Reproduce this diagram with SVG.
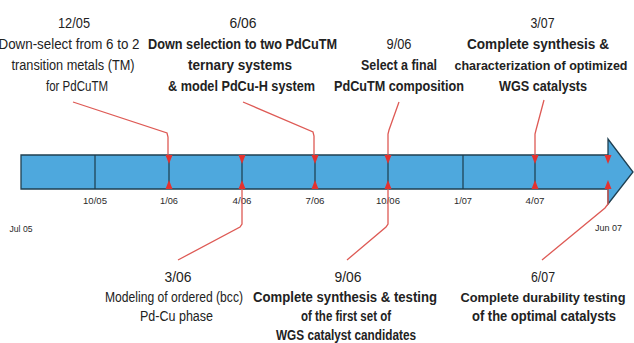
<svg xmlns="http://www.w3.org/2000/svg" width="634" height="343" viewBox="0 0 634 343">
<defs>
<style>
.t{font-family:"Liberation Sans",Arial,sans-serif;font-size:14px;fill:#222;text-anchor:middle}
.b{font-weight:bold}
.n{font-size:13px}
.s{font-family:"Liberation Sans",Arial,sans-serif;font-size:9.5px;fill:#2a2a2a;text-anchor:middle}
.c{fill:none;stroke:#de5a55;stroke-width:1.3}
.tick{stroke:#1c3c4c;stroke-width:1.2}
.tri{fill:#e3322f}
</style>
<polygon id="dn" points="-3.5,0 3.5,0 0,9"/>
<polygon id="up" points="-3.5,0 3.5,0 0,-9"/>
</defs>
<g id="timeline-bar">
<polygon points="21,155 608,155 608,139 633,172 608,204 608,189 21,189" fill="#4ea8dd" stroke="#1f3f50" stroke-width="1.3" stroke-linejoin="miter"/>
<line class="tick" x1="95" y1="155" x2="95" y2="189"/>
<line class="tick" x1="463" y1="155" x2="463" y2="189"/>
<line class="tick" x1="169" y1="160" x2="169" y2="184"/>
<line class="tick" x1="242" y1="160" x2="242" y2="184"/>
<line class="tick" x1="315" y1="160" x2="315" y2="184"/>
<line class="tick" x1="388" y1="160" x2="388" y2="184"/>
<line class="tick" x1="535" y1="160" x2="535" y2="184"/>
</g>
<g id="markers">
<use href="#dn" class="tri" x="169" y="155"/><use href="#up" class="tri" x="169" y="189"/>
<use href="#dn" class="tri" x="242" y="155"/><use href="#up" class="tri" x="242" y="189"/>
<use href="#dn" class="tri" x="315" y="155"/><use href="#up" class="tri" x="315" y="189"/>
<use href="#dn" class="tri" x="388" y="155"/><use href="#up" class="tri" x="388" y="189"/>
<use href="#dn" class="tri" x="535" y="155"/><use href="#up" class="tri" x="535" y="189"/>
<use href="#dn" class="tri" x="608" y="155"/><use href="#up" class="tri" x="608" y="189"/>
</g>
<g id="axis-labels">
<text class="s" x="95" y="204" textLength="24" lengthAdjust="spacingAndGlyphs">10/05</text>
<text class="s" x="169" y="204" textLength="18" lengthAdjust="spacingAndGlyphs">1/06</text>
<text class="s" x="242" y="204" textLength="19" lengthAdjust="spacingAndGlyphs">4/06</text>
<text class="s" x="315" y="204" textLength="19" lengthAdjust="spacingAndGlyphs">7/06</text>
<text class="s" x="388" y="204" textLength="24" lengthAdjust="spacingAndGlyphs">10/06</text>
<text class="s" x="463" y="204" textLength="18" lengthAdjust="spacingAndGlyphs">1/07</text>
<text class="s" x="535" y="204" textLength="19" lengthAdjust="spacingAndGlyphs">4/07</text>
<text class="s" x="21" y="232" textLength="23" lengthAdjust="spacingAndGlyphs">Jul 05</text>
<text class="s" x="608.5" y="231" textLength="27" lengthAdjust="spacingAndGlyphs">Jun 07</text>
</g>
<g id="connectors">
<polyline class="c" points="73,102 167,133 168,137 168,155"/>
<polyline class="c" points="243,102 313,132 314,136 314,155"/>
<polyline class="c" points="399,102 389,130 388,134 388,155"/>
<polyline class="c" points="544,100 536,130 535,134 535,155"/>
<polyline class="c" points="242,189 242,224 240,227 178,260"/>
<polyline class="c" points="388,189 388,224 386,227 347,260"/>
<polyline class="c" points="608,189 608,204 605,208 542,260"/>
</g>
<g id="m-1205">
<text class="t" x="74" y="28" textLength="32" lengthAdjust="spacingAndGlyphs">12/05</text>
<text class="t" x="69" y="49" textLength="141" lengthAdjust="spacingAndGlyphs">Down-select from 6 to 2</text>
<text class="t" x="73" y="70" textLength="123" lengthAdjust="spacingAndGlyphs">transition metals (TM)</text>
<text class="t" x="77" y="91" textLength="62" lengthAdjust="spacingAndGlyphs">for PdCuTM</text>
</g>
<g id="m-0606">
<text class="t" x="243" y="28" textLength="27" lengthAdjust="spacingAndGlyphs">6/06</text>
<text class="t b" x="242.5" y="49" textLength="189" lengthAdjust="spacingAndGlyphs">Down selection to two PdCuTM</text>
<text class="t b" x="240" y="70" textLength="104" lengthAdjust="spacingAndGlyphs">ternary systems</text>
<text class="t b" x="241.5" y="91" textLength="147" lengthAdjust="spacingAndGlyphs">&amp; model PdCu-H system</text>
</g>
<g id="m-0906-top">
<text class="t" x="399" y="49" textLength="25" lengthAdjust="spacingAndGlyphs">9/06</text>
<text class="t b" x="399" y="70" textLength="76" lengthAdjust="spacingAndGlyphs">Select a final</text>
<text class="t b" x="399" y="91" textLength="130" lengthAdjust="spacingAndGlyphs">PdCuTM composition</text>
</g>
<g id="m-0307">
<text class="t" x="542.5" y="28" textLength="24" lengthAdjust="spacingAndGlyphs">3/07</text>
<text class="t b" x="538" y="49" textLength="142" lengthAdjust="spacingAndGlyphs">Complete synthesis &amp;</text>
<text class="t b n" x="541" y="70" textLength="173" lengthAdjust="spacingAndGlyphs">characterization of optimized</text>
<text class="t b" x="543" y="91" textLength="88" lengthAdjust="spacingAndGlyphs">WGS catalysts</text>
</g>
<g id="m-0306">
<text class="t" x="178" y="282" textLength="27" lengthAdjust="spacingAndGlyphs">3/06</text>
<text class="t" x="174" y="302" textLength="138" lengthAdjust="spacingAndGlyphs">Modeling of ordered (bcc)</text>
<text class="t" x="176.5" y="321" textLength="73" lengthAdjust="spacingAndGlyphs">Pd-Cu phase</text>
</g>
<g id="m-0906-bottom">
<text class="t" x="348" y="282" textLength="27" lengthAdjust="spacingAndGlyphs">9/06</text>
<text class="t b" x="345" y="302" textLength="184" lengthAdjust="spacingAndGlyphs">Complete synthesis &amp; testing</text>
<text class="t b" x="346" y="321" textLength="90" lengthAdjust="spacingAndGlyphs">of the first set of</text>
<text class="t b" x="346" y="340" textLength="140" lengthAdjust="spacingAndGlyphs">WGS catalyst candidates</text>
</g>
<g id="m-0607">
<text class="t" x="543" y="282" textLength="24" lengthAdjust="spacingAndGlyphs">6/07</text>
<text class="t b n" x="543" y="302" textLength="165" lengthAdjust="spacingAndGlyphs">Complete durability testing</text>
<text class="t b" x="544" y="321" textLength="144" lengthAdjust="spacingAndGlyphs">of the optimal catalysts</text>
</g>
</svg>
